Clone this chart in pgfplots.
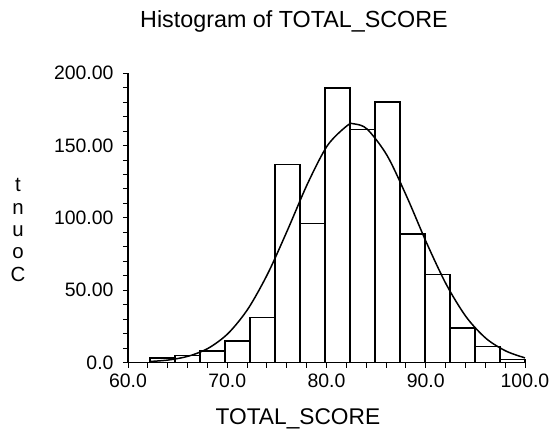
\documentclass[border=0pt]{standalone}
\usepackage{pgfplots}
\pgfplotsset{compat=1.18}
\usepackage{fontspec}
\setmainfont{Liberation Sans}
\begin{document}
\begin{tikzpicture}
\begin{axis}[
  at={(0,0)}, anchor=south west,
  scale only axis, width=397bp, height=289.2bp,
  xmin=60, xmax=100, ymin=0, ymax=200,
  axis x line*=bottom, axis y line*=left,
  axis line style={line width=1.5pt},
  tick align=outside,
  xtick={60,70,...,100}, xticklabels={60.0,70.0,80.0,90.0,100.0},
  minor x tick num=4,
  ytick={0,50,...,200}, yticklabels={0.0,50.00,100.00,150.00,200.00},
  minor y tick num=4,
  major tick length=5bp, minor tick length=5bp,
  every tick/.style={black, line width=1pt},
  ticklabel style={font=\fontsize{19.5}{22}\selectfont},
  yticklabel style={xshift=-6bp},
  xticklabel style={yshift=-3bp},
  /pgf/number format/assume math mode=true,
  clip=false,
]
\addplot[ybar interval, fill=white, draw=black, line width=1.5pt] coordinates {
(62.20,3) (64.72,5) (67.24,8) (69.76,15) (72.28,31) (74.80,137) (77.32,96)
(79.84,190) (82.36,161) (84.88,180) (87.40,89) (89.92,61) (92.44,24)
(94.96,11) (97.48,2) (100.00,2)};
\addplot[smooth, black, line width=1.5pt] coordinates {
(62.2,0.7) (64.1,1.75) (66.1,4.4) (68.1,9.9) (70.1,20.2) (72.1,37.2)
(74.1,61.7) (76.1,92.0) (78.1,123.8) (80.1,150.1) (82.1,163.9) (82.8,165)
(84.1,161.4) (86.1,143.2) (88.1,114.5) (90.1,82.5) (92.1,53.6) (94.1,31.3)
(96.1,16.5) (98.1,7.85) (100,3.2)};
\node[font=\fontsize{23.4}{26}\selectfont] at (axis description cs:0.418,1.178) {Histogram of TOTAL\_SCORE};
\node[font=\fontsize{22.8}{26}\selectfont] at (axis description cs:0.428,-0.195) {TOTAL\_SCORE};
\node[font=\fontsize{20.5}{22.5}\selectfont, align=center] at (axis description cs:-0.277,0.458) {t\\n\\u\\o\\C};
\end{axis}
\pgfresetboundingbox
\path (-128bp,-72.5bp) rectangle (425bp,362.5bp);
\end{tikzpicture}
\end{document}
